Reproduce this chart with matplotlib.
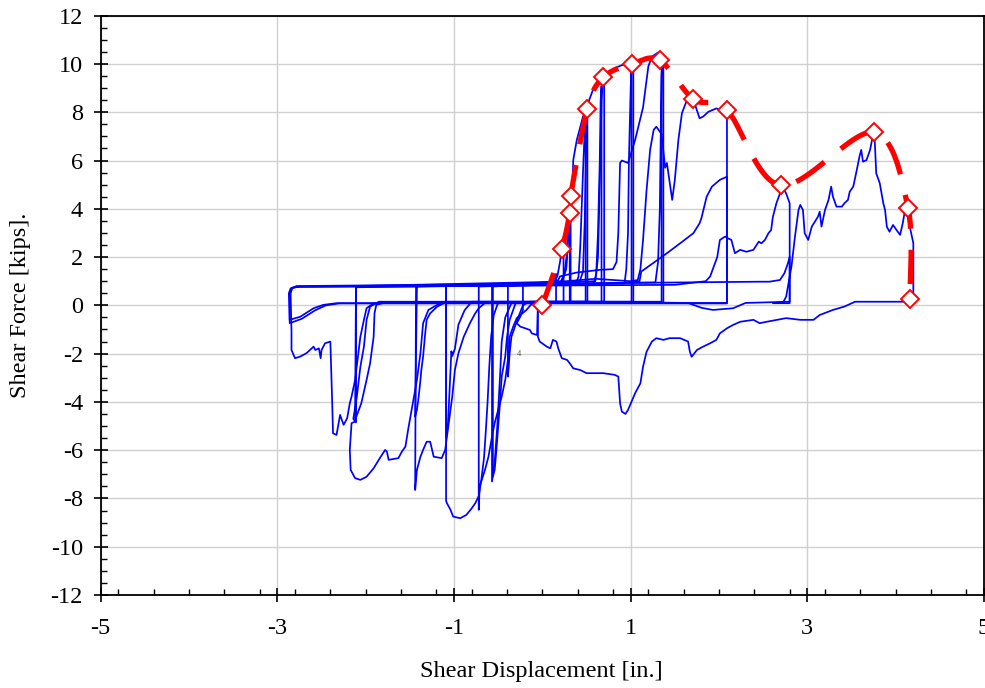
import numpy as np
import matplotlib
matplotlib.use('Agg')
import matplotlib.pyplot as plt
from matplotlib.ticker import MultipleLocator, FixedLocator

plt.rcParams['font.family'] = ['Liberation Serif', 'DejaVu Serif']
plt.rcParams['axes.unicode_minus'] = False

# ---------------- hysteresis trace (in., kips) ----------------
loop1_x = [-0.05, 0.10, 0.12, 0.155, 0.155, -0.05, -0.06, -0.12, -0.14, -0.25, -0.29, -0.25, -0.22, -0.22]
loop1_y = [0.85, 0.85, 1.0, 1.3, 0.12, 0.12, -1.23, -1.16, -1.02, -0.88, -0.74, -0.47, -0.2, 0.82]

loop2_x = [-0.22, 0.12, 0.17, 0.20, 0.22, 0.24, 0.24, -0.15, -0.22, -0.27, -0.31, -0.35, -0.37, -0.38, -0.39, -0.39]
loop2_y = [0.82, 0.88, 1.2, 1.8, 2.33, 2.3, 0.15, 0.15, 0.0, -0.47, -0.88, -1.30, -1.98, -2.54, -2.95, 0.80]

loop3_x = [-0.39, 0.20, 0.25, 0.28, 0.29, 0.31, 0.32, 0.32, -0.30, -0.37, -0.40, -0.42, -0.46, -0.48, -0.50, -0.52, -0.54, -0.56, -0.56]
loop3_y = [0.80, 0.92, 1.3, 2.16, 2.99, 3.84, 4.53, 0.12, 0.12, -0.6, -1.30, -2.12, -2.95, -4.06, -5.02, -5.99, -6.82, -7.10, 0.78]

loop4_x = [-0.56, 0.22, 0.27, 0.29, 0.31, 0.31, -0.35, -0.42, -0.46, -0.48, -0.51, -0.54, -0.57, -0.57]
loop4_y = [0.78, 0.95, 1.5, 2.8, 3.84, 0.10, 0.10, -0.5, -1.5, -3.0, -5.0, -6.5, -7.3, 0.80]

loop5_x = [-0.57, 0.22, 0.27, 0.28, 0.29, 0.31, 0.33, 0.34, 0.35, 0.37, 0.39, 0.43, 0.46, 0.51, 0.51,
           -0.10, -0.18, -0.29, -0.33, -0.37, -0.38, -0.40, -0.42, -0.46, -0.50, -0.54, -0.57, -0.61,
           -0.65, -0.71, -0.72, -0.72]
loop5_y = [0.80, 1.0, 1.6, 2.16, 2.99, 3.47, 4.37, 4.92, 6.02, 6.44, 6.85, 7.4, 7.82, 8.15, 0.15,
           0.15, -0.19, -0.53, -0.88, -1.30, -1.98, -2.54, -3.09, -3.78, -4.33, -4.88, -5.44, -6.27,
           -6.82, -7.51, -8.47, 0.78]

loop6_x = [-0.72, 0.38, 0.41, 0.43, 0.46, 0.48, 0.49, 0.49, -0.50, -0.55, -0.58, -0.60, -0.62, -0.64,
           -0.66, -0.69, -0.72, -0.76, -0.80, -0.86, -0.93, -1.01, -1.04, -1.08, -1.09, -1.09]
loop6_y = [0.78, 0.90, 1.2, 2.5, 5.5, 7.3, 7.8, 0.12, 0.12, -0.4, -1.3, -2.5, -4.0, -5.2,
           -6.3, -7.2, -7.9, -8.20, -8.41, -8.68, -8.82, -8.75, -8.47, -8.2, -8.1, 0.80]

loop7_x = [-1.09, 0.42, 0.46, 0.48, 0.50, 0.52, 0.58, 0.65, 0.69, 0.70, 0.70, -0.80, -0.88, -0.95,
           -0.99, -1.02, -1.03, -1.05, -1.07, -1.09, -1.09]
loop7_y = [0.80, 0.95, 1.4, 3.5, 7.5, 8.4, 9.0, 9.3, 9.45, 9.4, 0.15, 0.15, -0.2, -0.8,
           -1.8, -2.1, -1.9, -3.5, -5.0, -5.5, 0.82]

loop8_x = [-1.09, 0.58, 0.61, 0.63, 0.65, 0.66, 0.67, 0.67, -0.65, -0.72, -0.76, -0.82, -0.89, -0.95,
           -0.99, -1.02, -1.04, -1.08, -1.10, -1.14, -1.23, -1.27, -1.31, -1.35, -1.38, -1.42, -1.44, -1.43]
loop8_y = [0.82, 0.90, 1.3, 3.0, 6.0, 8.5, 9.1, 0.10, 0.10, -0.12, -0.33, -0.74, -1.30, -1.98,
           -2.68, -3.78, -4.33, -5.44, -5.99, -6.33, -6.27, -5.65, -5.65, -5.99, -6.27, -6.82, -7.65, 0.78]

loop9_x = [-1.43, 0.60, 0.63, 0.65, 0.67, 0.69, 0.80, 0.90, 1.02, 1.03, 1.03, -1.10, -1.19, -1.27,
           -1.31, -1.33, -1.35, -1.37, -1.38, -1.40, -1.42, -1.44, -1.42]
loop9_y = [0.78, 1.0, 2.0, 5.0, 8.5, 9.45, 9.8, 9.95, 10.05, 10.0, 0.12, 0.12, -0.05, -0.33,
           -0.60, -1.30, -2.12, -2.68, -3.09, -3.78, -4.33, -4.61, 0.80]

loop10_x = [-1.42, 0.93, 0.95, 0.97, 0.98, 1.00, 1.01, 1.01, -1.10, -1.19, -1.29, -1.35, -1.38, -1.42,
            -1.46, -1.48, -1.52, -1.55, -1.59, -1.63, -1.74, -1.76, -1.78, -1.84, -1.91, -1.99, -2.06,
            -2.12, -2.17, -2.18, -2.16, -2.11, -2.11]
loop10_y = [0.80, 0.90, 1.5, 3.0, 6.0, 9.0, 10.0, 0.15, 0.15, 0.02, -0.19, -0.74, -1.98, -3.09,
            -3.92, -4.33, -5.16, -5.85, -6.06, -6.33, -6.40, -6.06, -5.99, -6.33, -6.75, -7.10, -7.23,
            -7.16, -6.82, -5.99, -4.88, -4.8, 0.75]

loop11_x = [-2.11, 0.15, 0.20, 0.39, 0.65, 0.80, 0.84, 0.86, 0.88, 0.90, 0.97, 1.05, 1.14, 1.20, 1.24,
            1.30, 1.33, 1.36, 1.37, 1.37, -1.80, -1.88, -1.90, -1.91, -1.95, -1.99, -2.05, -2.12, -2.11]
loop11_y = [0.75, 0.85, 1.2, 1.36, 1.47, 1.5, 1.8, 3.0, 5.9, 6.0, 5.9, 6.85, 8.2, 9.9, 10.3,
            10.45, 10.5, 10.3, 10.2, 0.10, 0.10, 0.02, -0.33, -1.30, -2.40, -3.09, -4.06, -4.75, 0.78]

loop12_x = [-2.11, 1.28, 1.31, 1.33, 1.34, 1.35, 1.36, 1.35, 1.35, -1.85, -1.95, -1.99, -2.02, -2.06,
            -2.10, -2.14, -2.11, -2.11]
loop12_y = [0.78, 0.95, 1.8, 4.0, 7.0, 9.5, 10.2, 10.1, 0.15, 0.15, -0.05, -0.60, -1.71, -2.54,
            -3.78, -4.7, -4.85, 0.80]

loop13_x = [-2.11, 0.20, 0.60, 1.00, 1.08, 1.11, 1.14, 1.18, 1.22, 1.26, 1.29, 1.35, 1.37, 1.39, 1.41,
            1.47, 1.50, 1.54, 1.58, 1.63, 1.71, 1.73, 1.78, 1.82, 1.88, 1.97, 2.07, 2.09, 2.09,
            -2.33, -2.48, -2.59, -2.74, -2.86, -2.86, -2.84, -2.78]
loop13_y = [0.80, 0.98, 1.1, 1.0, 1.05, 1.5, 2.71, 4.78, 6.44, 7.27, 7.4, 7.1, 6.4, 5.7, 5.9,
            4.37, 5.2, 6.85, 7.96, 8.44, 8.54, 8.3, 7.75, 7.82, 8.02, 8.16, 8.02, 8.0, 0.10,
            0.09, 0.02, -0.12, -0.47, -0.60, 0.5, 0.72, 0.80]

loop14_x = [-2.78, 0.50, 1.00, 1.10, 1.12, 1.25, 1.41, 1.56, 1.71, 1.78, 1.80, 1.86, 1.92, 2.01, 2.09,
            2.09, -2.30, -2.45, -2.57, -2.72, -2.86, -2.87, -2.85, -2.78]
loop14_y = [0.78, 0.85, 0.95, 1.0, 1.4, 1.74, 2.16, 2.57, 2.99, 3.40, 3.6, 4.5, 4.92, 5.2, 5.33,
            0.08, 0.08, 0.0, -0.2, -0.55, -0.74, 0.5, 0.70, 0.76]

loop15_x = [-2.78, 1.50, 1.85, 1.90, 1.94, 1.98, 2.01, 2.07, 2.10, 2.14, 2.18, 2.24, 2.31, 2.39, 2.45,
            2.48, 2.52, 2.56, 2.59, 2.61, 2.65, 2.69, 2.72, 2.76, 2.80, 2.80, 2.30, 2.16, 1.93, 1.80,
            1.65, 0.5, -1.0, -1.84, -1.91, -1.99, -2.02, -2.06, -2.12, -2.16, -2.18, -2.21, -2.25,
            -2.29, -2.33, -2.37, -2.38, -2.40, -2.46, -2.50, -2.51, -2.53, -2.57, -2.59, -2.67,
            -2.74, -2.80, -2.84, -2.84, -2.85, -2.83, -2.75]
loop15_y = [0.76, 0.85, 1.0, 1.2, 1.6, 2.0, 2.71, 2.85, 2.78, 2.71, 2.16, 2.3, 2.22, 2.3, 2.64,
            2.57, 2.71, 2.99, 3.12, 3.67, 4.23, 4.64, 4.9, 4.64, 4.23, 0.15, 0.10, -0.12, -0.19, -0.1,
            0.10, 0.15, 0.12, 0.09, 0.09, -0.12, -0.60, -1.30, -3.09, -3.78, -4.06, -4.68, -4.95,
            -4.54, -5.37, -5.30, -3.92, -1.50, -1.57, -1.85, -2.19, -1.78, -1.85, -1.71, -1.98,
            -2.12, -2.19, -1.85, -1.09, 0.5, 0.72, 0.80]

final_x = [-2.75, 2.46, 2.57, 2.69, 2.74, 2.78, 2.80, 2.80, 2.61, 2.73, 2.76, 2.80, 2.82, 2.86, 2.90,
           2.92, 2.95, 2.97, 3.01, 3.05, 3.12, 3.14, 3.16, 3.20, 3.24, 3.27, 3.29, 3.33, 3.39, 3.42,
           3.46, 3.48, 3.52, 3.56, 3.59, 3.61, 3.63, 3.67, 3.71, 3.74, 3.76, 3.78, 3.82, 3.86, 3.88,
           3.90, 3.93, 3.97, 4.01, 4.05, 4.08, 4.10, 4.12, 4.20, 4.20, 3.54, 3.42, 3.29, 3.14, 3.07,
           2.92, 2.76, 2.54, 2.46, 2.39, 2.24, 2.16, 2.09, 2.01, 1.97, 1.90, 1.82, 1.75, 1.69, 1.67,
           1.65, 1.56, 1.44, 1.37, 1.29, 1.24, 1.18, 1.14, 1.11, 1.05, 1.01, 0.97, 0.94, 0.90, 0.88,
           0.86, 0.82, 0.69, 0.50, 0.43, 0.35, 0.31, 0.28, 0.22, 0.18, 0.16, 0.12, 0.09, 0.05, -0.03,
           -0.05, -0.05]
final_y = [0.80, 0.98, 0.98, 1.05, 1.33, 1.74, 2.02, 0.09, 0.09, 0.15, 0.36, 1.19, 1.60, 2.85, 3.95,
           4.16, 3.95, 2.99, 2.71, 3.26, 3.67, 3.88, 3.26, 3.95, 4.37, 4.92, 4.50, 4.09, 4.09, 4.23,
           4.37, 4.71, 4.92, 5.61, 6.16, 6.44, 5.95, 6.02, 6.44, 6.99, 7.06, 5.47, 5.06, 4.23, 3.95,
           3.26, 3.05, 3.33, 3.12, 2.92, 3.40, 3.82, 3.95, 2.57, 0.15, 0.15, -0.05, -0.19, -0.40, -0.60,
           -0.60, -0.53, -0.68, -0.74, -0.60, -0.68, -0.81, -0.95, -1.16, -1.43, -1.57, -1.71, -1.85,
           -2.13, -1.92, -1.50, -1.36, -1.36, -1.43, -1.36, -1.50, -1.92, -2.54, -3.23, -3.64, -3.99,
           -4.33, -4.50, -4.40, -4.06, -2.95, -2.88, -2.81, -2.81, -2.68, -2.61, -2.40, -2.26, -2.19,
           -1.78, -1.50, -1.43, -1.78, -1.71, -1.50, -1.30, -0.05]

# ---------------- envelope (red, diamonds) ----------------
env_x = [0.00, 0.22, 0.31, 0.32, 0.51, 0.69, 1.02, 1.33, 1.71, 2.09, 2.70, 3.75, 4.14, 4.16]
env_y = [0.00, 2.33, 3.84, 4.53, 8.15, 9.45, 10.01, 10.15, 8.54, 8.09, 4.97, 7.17, 4.03, 0.27]

x_ticks = [-5, -3, -1, 1, 3, 5]
x_label = 'Shear Displacement [in.]'
y_label = 'Shear Force [kips].'


def smooth(xs, ys, sx=88.4, sy=24.14, n=40):
    """Excel-like smoothed line (Catmull-Rom Bezier) computed in screen space."""
    P = np.column_stack([np.asarray(xs) * sx, np.asarray(ys) * sy])
    P = np.vstack([P[0], P, P[-1]])
    out = []
    t = np.linspace(0, 1, n)[:, None]
    for i in range(1, len(P) - 2):
        p0, p1, p2, p3 = P[i - 1], P[i], P[i + 1], P[i + 2]
        c1 = p1 + (p2 - p0) / 6.0
        c2 = p2 - (p3 - p1) / 6.0
        seg = ((1 - t) ** 3) * p1 + 3 * ((1 - t) ** 2) * t * c1 + 3 * (1 - t) * t ** 2 * c2 + t ** 3 * p2
        out.append(seg if i == 1 else seg[1:])
    out = np.vstack(out)
    return out[:, 0] / sx, out[:, 1] / sy


fig = plt.figure(figsize=(9.85, 6.88), dpi=100)
ax = fig.add_axes([100.7 / 985, 1 - 595 / 688, (984 - 100.7) / 985, (595 - 15.7) / 688])

loops = [(loop1_x, loop1_y), (loop2_x, loop2_y), (loop3_x, loop3_y), (loop4_x, loop4_y),
         (loop5_x, loop5_y), (loop6_x, loop6_y), (loop7_x, loop7_y), (loop8_x, loop8_y),
         (loop9_x, loop9_y), (loop10_x, loop10_y), (loop11_x, loop11_y), (loop12_x, loop12_y),
         (loop13_x, loop13_y), (loop14_x, loop14_y), (loop15_x, loop15_y), (final_x, final_y)]
for lx, ly in loops:
    ax.plot(lx, ly, color='#0000ff', lw=1.25, zorder=2, solid_joinstyle='round')

sx_, sy_ = smooth(env_x, env_y)
ax.plot(sx_, sy_, color='#ff0000', lw=3.8, linestyle=(0, (6.5, 4.0)), zorder=3,
        solid_capstyle='butt', dash_capstyle='butt')
ax.plot(env_x, env_y, linestyle='none', marker='D', markersize=9.5, markerfacecolor='white',
        markeredgecolor='#ff0000', markeredgewidth=1.4, zorder=4)

ax.text(-0.27, -2.01, '4', fontsize=6, color='#505050', ha='center', va='center')

ax.set_xlim(-5, 5)
ax.set_ylim(-12, 12)
ax.xaxis.set_major_locator(FixedLocator(x_ticks))
ax.xaxis.set_minor_locator(MultipleLocator(0.4))
ax.yaxis.set_major_locator(MultipleLocator(2))
ax.yaxis.set_minor_locator(MultipleLocator(0.5))
ax.grid(True, which='major', color='#d0d0d0', lw=1.0)
ax.set_axisbelow(True)
for s in ax.spines.values():
    s.set_linewidth(1.3)
    s.set_color('black')
ax.tick_params(which='major', direction='inout', length=9.5, width=1.2, labelsize=17.5, colors='black')
ax.tick_params(axis='x', which='major', pad=12)
ax.tick_params(axis='y', which='major', pad=8)
ax.tick_params(which='minor', direction='in', length=4.5, width=1.0)

fig.text(541.5 / 985, 1 - 671 / 688, x_label, ha='center', va='center', fontsize=17.5)
fig.text(21 / 985, 1 - 305 / 688, y_label, ha='center', va='center', rotation=90, fontsize=17.5)

fig.savefig('out.png', dpi=100)
